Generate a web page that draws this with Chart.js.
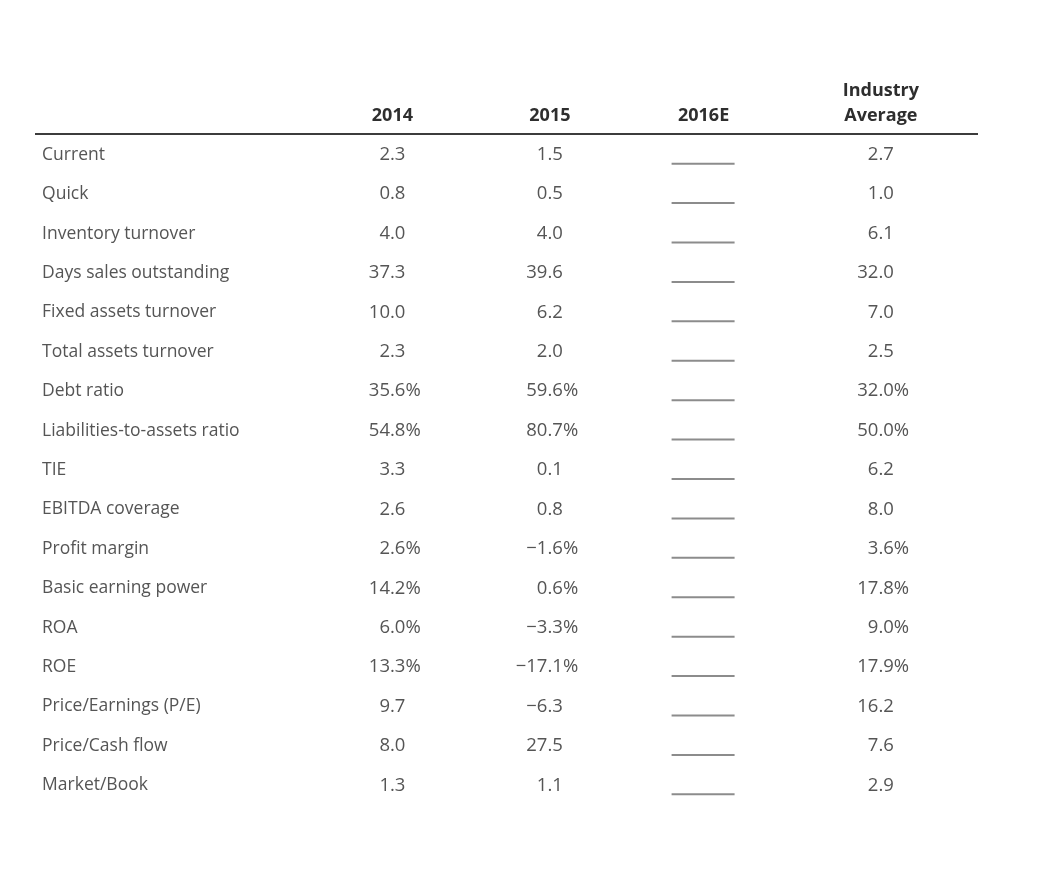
<!DOCTYPE html>
<html>
<head>
<meta charset="utf-8">
<script src="https://cdn.jsdelivr.net/npm/chart.js@4/dist/chart.umd.min.js"></script>
<style>
  html, body { margin: 0; padding: 0; background: #fff; }
  #wrap { width: 1056px; height: 880px; }
</style>
</head>
<body>
<div id="wrap"><canvas id="ratio_table"></canvas></div>
<script>
// ratio table, values
const ratioNames = [
  'Current', 'Quick', 'Inventory turnover', 'Days sales outstanding',
  'Fixed assets turnover', 'Total assets turnover', 'Debt ratio',
  'Liabilities-to-assets ratio', 'TIE', 'EBITDA coverage', 'Profit margin',
  'Basic earning power', 'ROA', 'ROE', 'Price/Earnings (P/E)',
  'Price/Cash flow', 'Market/Book'
];
const columns = ['2014', '2015', '2016E', 'Industry Average'];
const values2014 = [2.3, 0.8, 4.0, 37.3, 10.0, 2.3, 35.6, 54.8, 3.3, 2.6, 2.6, 14.2, 6.0, 13.3, 9.7, 8.0, 1.3];
const values2015 = [1.5, 0.5, 4.0, 39.6, 6.2, 2.0, 59.6, 80.7, 0.1, 0.8, -1.6, 0.6, -3.3, -17.1, -6.3, 27.5, 1.1];
const values2016E = ratioNames.map(() => null); // left blank for the student
const industryAvg = [2.7, 1.0, 6.1, 32.0, 7.0, 2.5, 32.0, 50.0, 6.2, 8.0, 3.6, 17.8, 9.0, 17.9, 16.2, 7.6, 2.9];
const percentRows = ['Debt ratio', 'Liabilities-to-assets ratio', 'Profit margin', 'Basic earning power', 'ROA', 'ROE'];

// layout: where each column sits across the table (0..100 of its width)
const colAnchor = [37.9, 54.6, 70.9, 89.7];
const labelAnchor = 0.75;
const FONT = '"Open Sans", "Noto Sans", sans-serif';

const allSeries = [values2014, values2015, values2016E, industryAvg];

function fmt(v) {
  return v.toFixed(1).replace('-', '\u2212');
}

const tablePlugin = {
  id: 'tableText',
  afterDatasetsDraw(chart) {
    const { ctx, chartArea, scales: { x, y } } = chart;
    const step = y.getPixelForValue(1) - y.getPixelForValue(0);
    const firstRow = y.getPixelForValue(0);
    ctx.save();
    ctx.textBaseline = 'middle';

    // rule under the header
    ctx.strokeStyle = '#3c3c3c';
    ctx.lineWidth = 2;
    ctx.beginPath();
    ctx.moveTo(chartArea.left, firstRow - step / 2 - 1);
    ctx.lineTo(chartArea.right, firstRow - step / 2 - 1);
    ctx.stroke();

    // column headers
    ctx.font = 'bold 18px ' + FONT;
    ctx.fillStyle = '#2e2e2e';
    ctx.textAlign = 'center';
    columns.forEach((c, ci) => {
      const cx = x.getPixelForValue(colAnchor[ci]);
      const parts = c.split(' ');
      parts.forEach((p, k) => {
        ctx.fillText(p, cx, firstRow - step + 1 - (parts.length - 1 - k) * 25);
      });
    });

    // row names
    ctx.font = '17.5px ' + FONT;
    ctx.fillStyle = '#555';
    ctx.textAlign = 'left';
    ratioNames.forEach((r, ri) => {
      ctx.fillText(r, x.getPixelForValue(labelAnchor), y.getPixelForValue(ri));
    });

    // cells
    ctx.font = '18.5px ' + FONT;
    chart.data.datasets.forEach((ds, di) => {
      chart.getDatasetMeta(di).data.forEach((pt, ri) => {
        const v = ds.data[ri].v;
        if (v === null) {
          ctx.strokeStyle = '#8c8c8c';
          ctx.lineWidth = 2;
          ctx.beginPath();
          ctx.moveTo(pt.x - 32, pt.y + 9);
          ctx.lineTo(pt.x + 31, pt.y + 9);
          ctx.stroke();
          return;
        }
        const edge = pt.x + 13;
        ctx.fillStyle = '#555';
        ctx.textAlign = 'right';
        ctx.fillText(fmt(v), edge, pt.y);
        if (percentRows.includes(ratioNames[ri])) {
          ctx.textAlign = 'left';
          ctx.fillText('%', edge, pt.y);
        }
      });
    });
    ctx.restore();
  }
};

new Chart(document.getElementById('ratio_table'), {
  type: 'scatter',
  data: {
    datasets: columns.map((c, ci) => ({
      label: c,
      data: ratioNames.map((r, ri) => ({ x: colAnchor[ci], y: r, v: allSeries[ci][ri] })),
      pointRadius: 0
    }))
  },
  options: {
    responsive: true,
    maintainAspectRatio: false,
    animation: false,
    layout: { padding: { top: 135, bottom: 75, left: 35, right: 78 } },
    plugins: {
      legend: { display: false },
      tooltip: { enabled: false }
    },
    scales: {
      x: { type: 'linear', min: 0, max: 100, display: false },
      y: { type: 'category', labels: ratioNames, offset: true, display: false }
    }
  },
  plugins: [tablePlugin]
});
</script>
</body>
</html>
